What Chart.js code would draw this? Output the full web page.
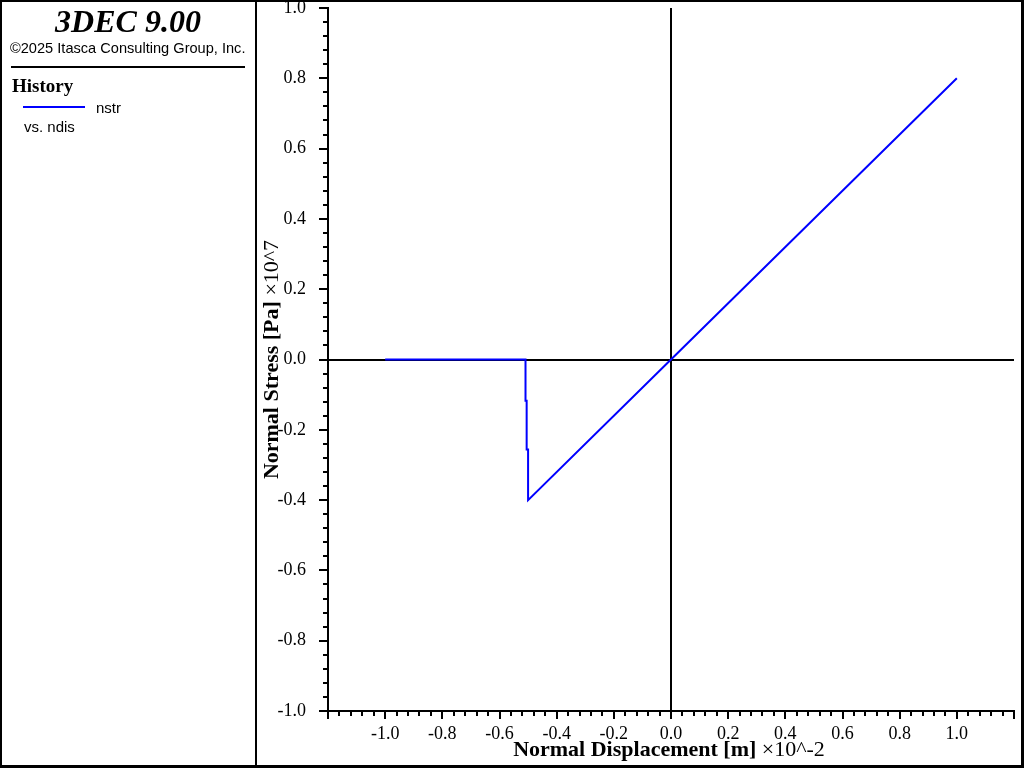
<!DOCTYPE html>
<html>
<head>
<meta charset="utf-8">
<script src="https://cdn.jsdelivr.net/npm/chart.js@4/dist/chart.umd.min.js"></script>
<style>
  html, body { margin: 0; padding: 0; background: #fff; }
  #wrap { position: relative; width: 1024px; height: 768px; }
</style>
</head>
<body>
<div id="wrap"><canvas id="myChart" width="1024" height="768"></canvas></div>
<script>
// history: nstr vs. ndis
const ndis = [-1.0, -0.509, -0.509, -0.505, -0.505, -0.5, -0.5, 0.0, 1.0];
const nstr = [0.0, 0.0, -0.117, -0.117, -0.256, -0.256, -0.4, 0.0, 0.8];

const xRange = [-1.2, 1.2];
const yRange = [-1.0, 1.0];
const xLabelRange = [-1.0, 1.0];
const tickStep = 0.04;
const labelStep = 0.2;

const serif = 'Liberation Serif';
const sans = 'Liberation Sans';

function isMajor(v) {
  const r = v / labelStep;
  return Math.abs(r - Math.round(r)) < 1e-6;
}

function fmt(v) {
  if (Math.abs(v) < 1e-9) return '0.0';
  return v.toFixed(1);
}

function zeroColor(c) {
  return (c.tick && Math.abs(c.tick.value) < 1e-9) ? '#000' : 'rgba(0,0,0,0)';
}

// minor + major tick marks, drawn outside the axes
const tickMarks = {
  id: 'tickMarks',
  afterDraw(chart) {
    const ctx = chart.ctx;
    const xs = chart.scales.x, ys = chart.scales.y;
    ctx.save();
    ctx.strokeStyle = '#000';
    ctx.lineWidth = 2;
    ctx.beginPath();
    xs.ticks.forEach(t => {
      const px = Math.round(xs.getPixelForValue(t.value));
      const len = isMajor(t.value) ? 8 : 5;
      ctx.moveTo(px, xs.top);
      ctx.lineTo(px, xs.top + len);
    });
    ys.ticks.forEach(t => {
      const py = Math.round(ys.getPixelForValue(t.value));
      const len = isMajor(t.value) ? 9 : 5;
      ctx.moveTo(ys.right, py);
      ctx.lineTo(ys.right - len, py);
    });
    ctx.stroke();
    ctx.restore();
  }
};

function mixed(ctx, bold, normal, size) {
  ctx.font = 'bold ' + size + 'px ' + serif;
  const w1 = ctx.measureText(bold).width;
  ctx.font = size + 'px ' + serif;
  const w2 = ctx.measureText(normal).width;
  const x0 = -(w1 + w2) / 2;
  ctx.font = 'bold ' + size + 'px ' + serif;
  ctx.fillText(bold, x0, 0);
  ctx.font = size + 'px ' + serif;
  ctx.fillText(normal, x0 + w1, 0);
}

// axis titles, side panel and frame
const decor = {
  id: 'decor',
  afterDraw(chart) {
    const ctx = chart.ctx;
    const area = chart.chartArea;
    ctx.save();
    ctx.fillStyle = '#000';
    ctx.textBaseline = 'alphabetic';
    ctx.textAlign = 'left';

    ctx.save();
    ctx.translate((area.left + area.right) / 2 - 2, 756);
    mixed(ctx, 'Normal Displacement [m]', ' \u00d710^-2', 22);
    ctx.restore();

    ctx.save();
    ctx.translate(278, (area.top + area.bottom) / 2);
    ctx.rotate(-Math.PI / 2);
    mixed(ctx, 'Normal Stress [Pa]', ' \u00d710^7', 22);
    ctx.restore();

    // side panel
    ctx.textAlign = 'center';
    ctx.font = 'bold italic 32px ' + serif;
    ctx.fillText('3DEC 9.00', 128, 32);
    ctx.textAlign = 'left';
    ctx.font = '14.6px ' + sans;
    ctx.fillText('\u00a92025 Itasca Consulting Group, Inc.', 10, 53);
    ctx.fillRect(11, 66, 234, 2);
    ctx.font = 'bold 19px ' + serif;
    ctx.fillText('History', 12, 92);
    ctx.fillStyle = '#0000ff';
    ctx.fillRect(23, 106, 62, 2);
    ctx.fillStyle = '#000';
    ctx.font = '15px ' + sans;
    ctx.fillText('nstr', 96, 113);
    ctx.fillText('vs. ndis', 24, 132);

    // frame
    ctx.fillRect(0, 0, 1024, 2);
    ctx.fillRect(0, 765, 1024, 3);
    ctx.fillRect(0, 0, 2, 768);
    ctx.fillRect(1021, 0, 3, 768);
    ctx.fillRect(255, 0, 2, 768);
    ctx.restore();
  }
};

const tickFont = { family: serif, size: 18 };

myChart = new Chart('myChart', {
  type: 'scatter',
  data: {
    datasets: [{
      label: 'nstr',
      data: ndis.map((x, i) => ({ x: x, y: nstr[i] })),
      showLine: true,
      borderColor: '#0000ff',
      backgroundColor: '#0000ff',
      borderWidth: 2,
      pointRadius: 0,
      tension: 0,
      fill: false
    }]
  },
  options: {
    responsive: false,
    animation: false,
    layout: { autoPadding: false, padding: { left: 256, top: 8, right: 10, bottom: 0 } },
    plugins: { legend: { display: false }, tooltip: { enabled: false } },
    scales: {
      x: {
        type: 'linear',
        min: xRange[0],
        max: xRange[1],
        afterFit: s => {
          s.height = 57;
          s.paddingLeft = 0; s.paddingRight = 0; s.paddingTop = 0; s.paddingBottom = 0;
        },
        border: { color: '#000', width: 2 },
        grid: { drawTicks: false, color: zeroColor, lineWidth: 2 },
        ticks: {
          stepSize: tickStep,
          maxTicksLimit: 200,
          autoSkip: false,
          maxRotation: 0,
          padding: 12,
          color: '#000',
          font: tickFont,
          callback: v => (isMajor(v) && v >= xLabelRange[0] - 1e-9 && v <= xLabelRange[1] + 1e-9) ? fmt(v) : ''
        }
      },
      y: {
        type: 'linear',
        min: yRange[0],
        max: yRange[1],
        afterFit: s => {
          s.width = 72;
          s.paddingLeft = 0; s.paddingRight = 0; s.paddingTop = 0; s.paddingBottom = 0;
        },
        border: { color: '#000', width: 2 },
        grid: { drawTicks: false, color: zeroColor, lineWidth: 2 },
        ticks: {
          stepSize: tickStep,
          maxTicksLimit: 200,
          autoSkip: false,
          padding: 22,
          color: '#000',
          font: tickFont,
          callback: v => isMajor(v) ? fmt(v) : ''
        }
      }
    }
  },
  plugins: [tickMarks, decor]
});
</script>
</body>
</html>
